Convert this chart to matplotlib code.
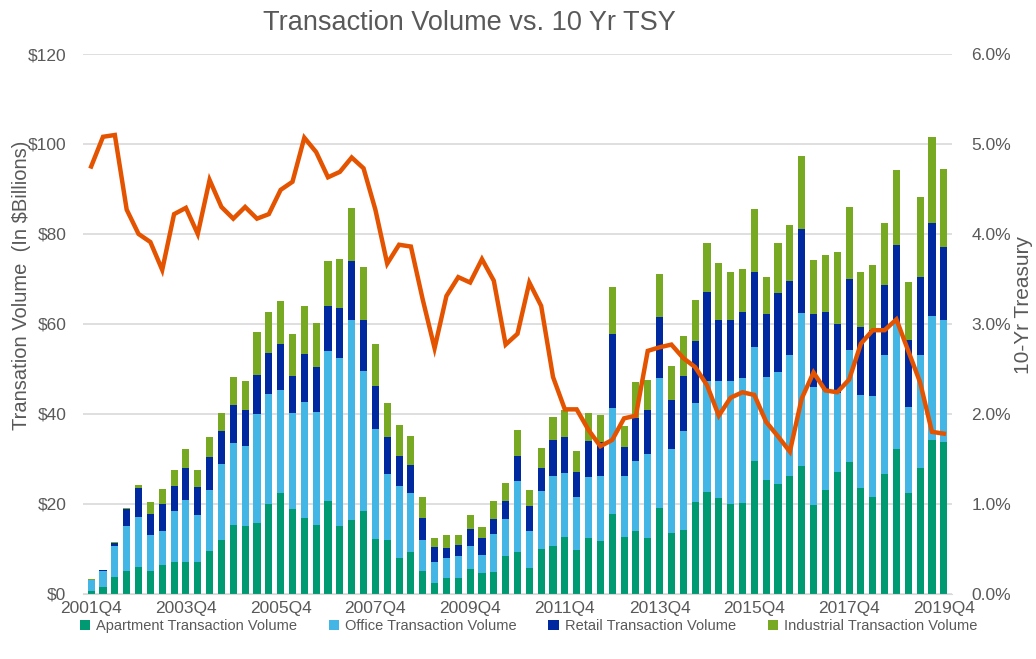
import matplotlib.pyplot as plt
import numpy as np

plt.rcParams["font.family"] = ["Liberation Sans", "DejaVu Sans"]

# quarters 2001Q4 .. 2019Q4
quarters = [f"{y}Q{q}" for y in range(2001, 2020) for q in range(1, 5)][3:]

# transaction volume by property type ($ billions)
apartment = [
    0.7, 1.6, 3.8, 5.1, 6.0, 5.1, 6.4, 7.0, 7.0, 7.0,
    9.4, 12.0, 15.3, 15.0, 15.7, 20.0, 22.4, 18.9, 16.9, 15.2,
    20.7, 15.1, 16.4, 18.5, 12.1, 12.0, 7.9, 9.3, 5.1, 2.3,
    3.4, 3.6, 5.6, 4.7, 4.9, 8.3, 9.3, 5.8, 10.0, 10.7,
    12.6, 9.8, 12.3, 11.8, 17.7, 12.6, 13.9, 12.4, 19.0, 13.5,
    14.1, 20.4, 22.7, 21.3, 20.0, 20.2, 29.6, 25.2, 24.4, 26.2,
    28.3, 19.8, 23.1, 27.0, 29.3, 23.5, 21.6, 26.7, 32.2, 22.4,
    27.9, 34.2, 33.8,
]
office = [
    2.3, 3.5, 6.9, 10.0, 11.0, 8.0, 7.6, 11.3, 13.8, 10.6,
    13.7, 16.8, 18.3, 17.9, 24.2, 24.4, 22.8, 21.3, 25.8, 25.2,
    33.3, 37.4, 44.5, 31.1, 24.6, 14.7, 16.0, 13.1, 6.8, 4.7,
    4.5, 4.8, 5.1, 4.0, 8.4, 8.4, 15.7, 8.1, 12.8, 15.5,
    14.3, 11.8, 13.7, 14.3, 23.7, 13.5, 15.7, 18.6, 28.9, 18.7,
    22.0, 22.0, 24.7, 25.9, 27.4, 27.7, 25.3, 22.9, 24.9, 26.8,
    34.2, 26.1, 22.2, 17.6, 24.9, 20.7, 22.4, 26.3, 27.9, 19.1,
    25.1, 27.6, 27.1,
]
retail = [
    0.1, 0.1, 0.6, 3.7, 6.5, 4.7, 5.9, 5.7, 7.2, 6.1,
    7.4, 7.4, 8.3, 7.9, 8.8, 9.2, 10.4, 8.2, 10.5, 10.1,
    9.9, 11.1, 13.1, 11.3, 9.4, 8.1, 6.8, 6.2, 4.9, 3.4,
    2.3, 2.4, 3.7, 3.6, 3.3, 4.0, 5.7, 5.7, 5.2, 8.0,
    7.9, 5.5, 7.9, 7.6, 16.3, 6.6, 9.4, 9.9, 13.7, 10.9,
    12.4, 13.8, 19.7, 13.7, 13.5, 14.8, 16.7, 14.1, 17.6, 16.6,
    18.5, 16.3, 17.3, 15.3, 15.7, 15.2, 14.7, 15.7, 17.5, 14.9,
    17.5, 20.6, 16.3,
]
industrial = [
    0.1, 0.1, 0.1, 0.2, 0.6, 2.6, 3.3, 3.5, 4.2, 3.8,
    4.4, 4.0, 6.2, 6.4, 9.5, 9.1, 9.4, 9.4, 10.7, 9.7,
    10.1, 10.8, 11.7, 11.7, 9.4, 7.7, 6.9, 6.4, 4.7, 2.1,
    2.9, 2.3, 3.0, 2.6, 4.1, 4.0, 5.6, 3.4, 4.4, 5.1,
    6.1, 4.7, 6.4, 6.1, 10.4, 4.7, 8.0, 6.7, 9.4, 7.5,
    8.8, 9.2, 10.8, 12.6, 10.7, 9.5, 14.0, 8.3, 11.0, 12.3,
    16.4, 11.9, 12.7, 16.0, 16.0, 12.2, 14.3, 13.7, 16.6, 12.9,
    17.8, 19.2, 17.2,
]
# 10-yr treasury yield (%)
treasury = [
    4.75, 5.08, 5.10, 4.27, 4.00, 3.91, 3.60, 4.22, 4.29, 4.00,
    4.60, 4.30, 4.17, 4.30, 4.17, 4.22, 4.49, 4.58, 5.07, 4.91,
    4.63, 4.69, 4.85, 4.73, 4.27, 3.67, 3.88, 3.86, 3.27, 2.73,
    3.31, 3.52, 3.46, 3.72, 3.48, 2.77, 2.89, 3.46, 3.20, 2.41,
    2.05, 2.05, 1.82, 1.64, 1.71, 1.95, 1.98, 2.70, 2.74, 2.77,
    2.62, 2.52, 2.32, 1.98, 2.18, 2.24, 2.21, 1.91, 1.75, 1.58,
    2.17, 2.46, 2.26, 2.24, 2.38, 2.78, 2.93, 2.93, 3.05, 2.70,
    2.35, 1.80, 1.78,
]

series = [apartment, office, retail, industrial]
names = [
    "Apartment Transaction Volume",
    "Office Transaction Volume",
    "Retail Transaction Volume",
    "Industrial Transaction Volume",
]
colors = ["#009a72", "#43b6e6", "#0029a0", "#77aa22"]
gray = "#595959"

x = np.arange(len(quarters))

fig = plt.figure(figsize=(10.36, 6.59), dpi=100)
ax = fig.add_axes([0.080, 0.099, 0.839, 0.819])

bottom = np.zeros(len(x))
for vals, name, c in zip(series, names, colors):
    ax.bar(x, vals, width=0.6, bottom=bottom, color=c, label=name, zorder=2)
    bottom += np.array(vals)

ax.set_ylim(0, 120)
ax.set_xlim(-0.7, 72.7)
ax.set_yticks(np.arange(0, 121, 20))
ax.set_yticklabels([f"${v}" for v in range(0, 121, 20)])
ax.set_xticks(x[::8])
ax.set_xticklabels(quarters[::8])
ax.grid(axis="y", color="#d9d9d9", linewidth=1.2, zorder=0)
ax.set_axisbelow(True)
for s in ["top", "right", "left"]:
    ax.spines[s].set_visible(False)
ax.spines["bottom"].set_color("#d9d9d9")
ax.tick_params(axis="both", length=0, colors=gray, labelsize=12.5)
ax.tick_params(axis="y", pad=12)
ax.tick_params(axis="x", pad=5)
ax.set_ylabel("Transation Volume  (In $Billions)", color=gray, fontsize=14.5)
ax.yaxis.set_label_coords(-0.060, 0.572)

ax2 = ax.twinx()
ax2.plot(x, treasury, color="#e45300", linewidth=3.2, solid_joinstyle="miter", zorder=3)
ax2.set_ylim(0, 6)
ax2.set_yticks(np.arange(0, 7, 1))
ax2.set_yticklabels([f"{v:.1f}%" for v in range(0, 7)])
for s in ax2.spines.values():
    s.set_visible(False)
ax2.tick_params(axis="y", length=0, colors=gray, labelsize=12.5, pad=14)
ax2.set_ylabel("10-Yr Treasury", color=gray, fontsize=15)
ax2.yaxis.set_label_coords(1.071, 0.535)

fig.text(0.453, 0.965, "Transaction Volume vs. 10 Yr TSY", ha="center", va="center",
         fontsize=19.5, color=gray)

handles, labels = ax.get_legend_handles_labels()
fig.legend(handles, labels, loc="center", bbox_to_anchor=(0.51, 0.05), ncol=4,
           frameon=False, fontsize=10.5, labelcolor=gray, handlelength=0.7,
           handleheight=0.7, columnspacing=2.2, handletextpad=0.4)

plt.savefig("out.png", dpi=100)
